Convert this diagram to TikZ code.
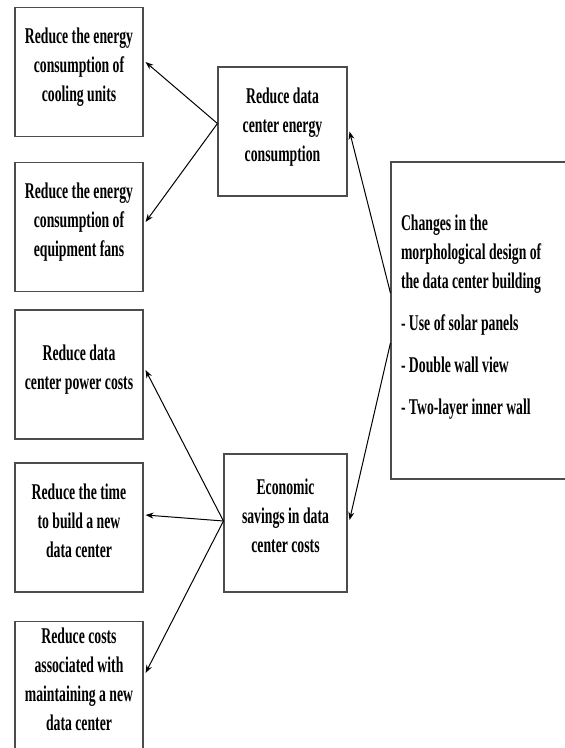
\documentclass[tikz,border=0pt]{standalone}
\usepackage{fontspec}
\setmainfont{Liberation Serif}[FakeStretch=0.61]
\usepackage{tikz}
\usetikzlibrary{arrows, arrows.meta}

\begin{document}
\begin{tikzpicture}[x=1pt, y=-1pt,
            box/.style={draw=black!70, line width=1.1pt, minimum width=128pt, minimum height=129pt,
                align=center, font=\fontsize{22.5}{29}\selectfont\bfseries, inner sep=4pt, text depth=14pt},
            link/.style={-{Stealth[length=8pt, width=6pt]}, line width=1pt}]
            \useasboundingbox (0,0) rectangle (565,748);
            \clip (0,0) rectangle (565,748);

            \node[box] (cool) at (79,72) {Reduce the energy\\consumption of\\cooling units};
            \node[box] (fans) at (79,227) {Reduce the energy\\consumption of\\equipment fans};
            \node[box] (power) at (79,374.5) {Reduce data\\center power costs};
            \node[box] (build) at (79,527.5) {Reduce the time\\to build a new\\data center};
            \node[box] (maint) at (79,686) {Reduce costs\\associated with\\maintaining a new\\data center};

            \node[box, minimum width=129pt] (energy) at (282.5,131.5) {Reduce data\\center energy\\consumption};
            \node[box, minimum width=123pt, minimum height=138pt] (saving) at (285.5,523) {Economic\\savings in data\\center costs};

            \node[box, minimum width=184pt, minimum height=317pt, text width=164pt, inner xsep=10pt,
                align=flush left, text depth=] (design) at (483,320.5) {Changes in the\\morphological design of\\the data center building\\[13pt]
                - Use of solar panels\\[13pt]- Double wall view\\[13pt]- Two-layer inner wall\\[-17pt]\mbox{}};

            \draw[link] ([yshift=8pt]energy.west) -- ([xshift=2pt, yshift=10pt]cool.east);
            \draw[link] ([yshift=8pt]energy.west) -- ([xshift=2pt, yshift=5pt]fans.east);
            \draw[link] ([yshift=27.5pt]design.west) -- ([xshift=2pt]energy.east);
            \draw[link] ([yshift=-22.5pt]design.west) -- ([xshift=2pt, yshift=3pt]saving.east);
            \draw[link] ([yshift=2pt]saving.west) -- ([xshift=2pt, yshift=4.5pt]power.east);
            \draw[link] ([yshift=2pt]saving.west) -- ([xshift=2pt, yshift=12.5pt]build.east);
            \draw[link] ([yshift=2pt]saving.west) -- ([xshift=2pt, yshift=13pt]maint.east);

        \end{tikzpicture}
\end{document}
